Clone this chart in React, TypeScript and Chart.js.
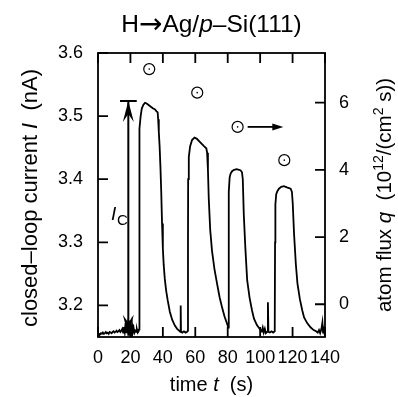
import React, { useEffect, useRef } from "react";
import { Chart, registerables } from "chart.js";

Chart.register(...registerables);

// ---- data ----
const timeS: number[] = [
  0, 0.6, 1.2, 1.8, 2.4, 3.0, 3.6, 4.2, 4.8, 5.4, 6.0, 6.6, 7.2, 7.8, 8.4, 9.0, 9.6, 10.2, 10.8, 11.4,
  12.0, 12.6, 13.2, 13.8, 14.4, 15.0, 15.5, 16.0, 16.5, 17.0, 17.5, 18.0, 18.5, 19.0, 19.5, 20.0, 20.5,
  21.0, 21.5, 22.0, 22.5, 23.0, 23.5, 24.0, 24.5, 25.0,
  25.3, 25.4, 25.5, 25.8, 26.3, 27, 28, 29, 30, 31, 32, 33, 34, 35, 36, 36.8, 37.1, 37.5, 38, 38.5, 39,
  39.5, 40, 40.5, 41.2, 42, 43, 44.3, 45.8, 47.4, 48.8, 50.0, 50.8, 51.0, 51.2, 52, 53, 54, 54.8, 55.4,
  55.5, 55.6, 56.0, 56.8, 58, 59.5, 61, 62.5, 64, 65.5, 66.8, 67.3, 67.8, 68.3, 69.2, 70.3, 71.8, 73.4,
  75.0, 76.5, 78, 79.6, 80.4,
  80.6, 80.7, 81.2, 81.8, 82.8, 84, 85.5, 87, 88, 88.8, 89.3, 89.9, 90.9, 92, 93.5, 95, 96.2, 98, 100,
  101, 101.6, 102.2, 102.9, 103.5, 104.3, 104.8, 105.1, 106, 107, 108, 109,
  109.2, 109.4, 109.9, 110.6, 111.6, 113, 114.7, 116.5, 118.8, 119.6, 120.1, 120.9, 122, 123, 124.5, 126,
  127.1, 129, 131.2, 133, 134.5, 135.5, 136.3, 137, 137.8, 138.4, 138.8, 139.3, 140,
];
const currentNA: number[] = [
  3.152, 3.155, 3.154, 3.156, 3.155, 3.157, 3.155, 3.156, 3.158, 3.156, 3.157, 3.155, 3.158, 3.157, 3.156,
  3.158, 3.159, 3.157, 3.158, 3.160, 3.158, 3.159, 3.161, 3.158, 3.160, 3.163, 3.157, 3.166, 3.158, 3.172,
  3.156, 3.168, 3.157, 3.176, 3.158, 3.163, 3.157, 3.170, 3.158, 3.164, 3.157, 3.160, 3.158, 3.162, 3.157,
  3.159,
  3.162, 3.30, 3.42, 3.48, 3.50, 3.512, 3.518, 3.521, 3.520, 3.518, 3.516, 3.514, 3.512, 3.511, 3.508,
  3.506, 3.495, 3.475, 3.452, 3.42, 3.38, 3.33, 3.29, 3.265, 3.242, 3.224, 3.208, 3.190, 3.177, 3.168,
  3.163, 3.160, 3.158, 3.20, 3.158, 3.157, 3.159, 3.157, 3.158, 3.16,
  3.30, 3.40, 3.435, 3.452, 3.462, 3.466, 3.464, 3.460, 3.456, 3.452, 3.449, 3.442, 3.415, 3.37, 3.32,
  3.287, 3.258, 3.235, 3.213, 3.197, 3.183, 3.171, 3.165,
  3.30, 3.38, 3.403, 3.409, 3.413, 3.415, 3.416, 3.415, 3.414, 3.411, 3.40, 3.345, 3.29, 3.24, 3.212,
  3.192, 3.179, 3.169, 3.162, 3.159, 3.165, 3.157, 3.163, 3.156, 3.158, 3.205, 3.158, 3.157, 3.159, 3.157,
  3.159,
  3.30, 3.36, 3.376, 3.381, 3.385, 3.388, 3.389, 3.387, 3.385, 3.380, 3.362, 3.314, 3.266, 3.235, 3.210,
  3.192, 3.181, 3.172, 3.165, 3.161, 3.159, 3.157, 3.161, 3.156, 3.163, 3.173, 3.157, 3.160, 3.152,
];
const fluxTime: number[] = [31.6, 61.2, 86.1, 114.9];
const fluxQ: number[] = [7.0, 6.3, 5.28, 4.29];

const xTicks: number[] = [0, 20, 40, 60, 80, 100, 120, 140];
const leftTicks: number[] = [3.2, 3.3, 3.4, 3.5, 3.6];
const rightTicks: number[] = [0, 2, 4, 6];

// annotation anchors in data units
const icArrowT = 18.7;
const icArrowFrom = 3.152;
const icArrowTo = 3.524;
const icBar: number[] = [13.6, 23.9];
const icLabelAt: number[] = [10.5, 3.345];
const fluxArrowT: number[] = [92.3, 114.3];
const fluxArrowQ = 5.28;

const FAMILY = "'Liberation Sans', Arial, Helvetica, sans-serif";

type Part = { t: string; size: number; italic?: boolean; dy?: number; family?: string };

function fontOf(p: Part) {
  return `${p.italic ? "italic " : ""}${p.size}px ${p.family || FAMILY}`;
}

function drawRich(ctx: CanvasRenderingContext2D, parts: Part[], cx: number, baseY: number) {
  let total = 0;
  const widths = parts.map((p) => {
    ctx.font = fontOf(p);
    const w = ctx.measureText(p.t).width;
    total += w;
    return w;
  });
  let x = cx - total / 2;
  ctx.textAlign = "left";
  ctx.textBaseline = "alphabetic";
  parts.forEach((p, i) => {
    ctx.font = fontOf(p);
    ctx.fillText(p.t, x, baseY + (p.dy || 0));
    x += widths[i];
  });
}

const decorPlugin = {
  id: "decor",
  afterDatasetsDraw(chart: any) {
    const ctx: CanvasRenderingContext2D = chart.ctx;
    const { left, right, top, bottom } = chart.chartArea;
    const sx = chart.scales.x;
    const sy = chart.scales.y;
    const sy2 = chart.scales.y2;
    ctx.save();
    ctx.strokeStyle = "#000";
    ctx.fillStyle = "#000";
    ctx.lineWidth = 1.8;
    ctx.strokeRect(left, top, right - left, bottom - top);
    const TL = 10;
    ctx.beginPath();
    xTicks.forEach((v) => {
      const px = sx.getPixelForValue(v);
      ctx.moveTo(px, bottom);
      ctx.lineTo(px, bottom - TL);
      ctx.moveTo(px, top);
      ctx.lineTo(px, top + TL);
    });
    leftTicks.forEach((v) => {
      const py = sy.getPixelForValue(v);
      ctx.moveTo(left, py);
      ctx.lineTo(left + TL, py);
    });
    rightTicks.forEach((v) => {
      const py = sy2.getPixelForValue(v);
      ctx.moveTo(right, py);
      ctx.lineTo(right - TL, py);
    });
    ctx.stroke();

    // I_C double arrow
    const ax = sx.getPixelForValue(icArrowT);
    const ayTop = sy.getPixelForValue(icArrowTo);
    const ayBot = sy.getPixelForValue(icArrowFrom);
    ctx.lineWidth = 2;
    ctx.beginPath();
    ctx.moveTo(ax, ayTop);
    ctx.lineTo(ax, ayBot);
    ctx.moveTo(sx.getPixelForValue(icBar[0]), ayTop);
    ctx.lineTo(sx.getPixelForValue(icBar[1]), ayTop);
    ctx.stroke();
    const head = (tipY: number, dir: number) => {
      ctx.beginPath();
      ctx.moveTo(ax, tipY);
      ctx.lineTo(ax - 5.5, tipY + dir * 21);
      ctx.lineTo(ax, tipY + dir * 13);
      ctx.lineTo(ax + 5.5, tipY + dir * 21);
      ctx.closePath();
      ctx.fill();
    };
    head(ayTop, 1);
    head(ayBot, -1);

    // flux arrow
    const fy = sy2.getPixelForValue(fluxArrowQ);
    const fx0 = sx.getPixelForValue(fluxArrowT[0]);
    const fx1 = sx.getPixelForValue(fluxArrowT[1]);
    ctx.lineWidth = 1.8;
    ctx.beginPath();
    ctx.moveTo(fx0, fy);
    ctx.lineTo(fx1 - 8, fy);
    ctx.stroke();
    ctx.beginPath();
    ctx.moveTo(fx1, fy);
    ctx.lineTo(fx1 - 11, fy - 3.5);
    ctx.lineTo(fx1 - 11, fy + 3.5);
    ctx.closePath();
    ctx.fill();

    // I_C label
    const lx = sx.getPixelForValue(icLabelAt[0]);
    const ly = sy.getPixelForValue(icLabelAt[1]);
    ctx.textAlign = "left";
    ctx.textBaseline = "alphabetic";
    ctx.font = `italic 19px ${FAMILY}`;
    ctx.fillText("I", lx - 4, ly + 6);
    ctx.font = `15px ${FAMILY}`;
    ctx.fillText("C", lx + 2, ly + 11);

    // title
    drawRich(
      ctx,
      [
        { t: "H", size: 24.5 },
        { t: "→", size: 28, family: "'DejaVu Sans', sans-serif", dy: 1 },
        { t: "Ag/", size: 24.5 },
        { t: "p", size: 24.5, italic: true },
        { t: "–Si(111)", size: 24.5 },
      ],
      (left + right) / 2,
      32
    );

    // x title
    drawRich(
      ctx,
      [
        { t: "time ", size: 20 },
        { t: "t", size: 20, italic: true },
        { t: "  (s)", size: 20 },
      ],
      (left + right) / 2,
      391
    );

    // left title
    ctx.save();
    ctx.translate(37, (top + bottom) / 2 + 3);
    ctx.rotate(-Math.PI / 2);
    drawRich(
      ctx,
      [
        { t: "closed–loop current ", size: 22 },
        { t: "I", size: 22, italic: true },
        { t: "  (nA)", size: 22 },
      ],
      0,
      0
    );
    ctx.restore();

    // right title
    ctx.save();
    ctx.translate(391, (top + bottom) / 2);
    ctx.rotate(-Math.PI / 2);
    drawRich(
      ctx,
      [
        { t: "atom flux ", size: 20.5 },
        { t: "q", size: 20.5, italic: true },
        { t: "  (10", size: 20.5 },
        { t: "12", size: 14, dy: -8 },
        { t: "/(cm", size: 20.5 },
        { t: "2", size: 14, dy: -8 },
        { t: " s))", size: 20.5 },
      ],
      0,
      0
    );
    ctx.restore();

    ctx.restore();
  },
};

export default function App() {
  const ref = useRef<HTMLCanvasElement | null>(null);
  useEffect(() => {
    if (!ref.current) return;
    Chart.defaults.font.family = FAMILY;
    const chart = new Chart(ref.current, {
      type: "scatter",
      data: {
        datasets: [
          {
            data: timeS.map((t, i) => ({ x: t, y: currentNA[i] })),
            showLine: true,
            borderColor: "#000",
            borderWidth: 1.8,
            pointRadius: 0,
            tension: 0,
            xAxisID: "x",
            yAxisID: "y",
          },
          {
            data: fluxTime.map((t, i) => ({ x: t, y: fluxQ[i] })),
            showLine: false,
            pointRadius: 5.5,
            pointBorderWidth: 1.2,
            pointBorderColor: "#000",
            pointBackgroundColor: "rgba(0,0,0,0)",
            xAxisID: "x",
            yAxisID: "y2",
          },
          {
            data: fluxTime.map((t, i) => ({ x: t, y: fluxQ[i] })),
            showLine: false,
            pointRadius: 0.8,
            pointBorderWidth: 0,
            pointBackgroundColor: "#000",
            xAxisID: "x",
            yAxisID: "y2",
          },
        ],
      },
      plugins: [decorPlugin],
      options: {
        responsive: false,
        animation: false,
        events: [],
        layout: { padding: { top: 53, left: 0, right: 0, bottom: 0 } },
        plugins: { legend: { display: false }, tooltip: { enabled: false }, title: { display: false } },
        scales: {
          x: {
            type: "linear",
            position: "bottom",
            min: 0,
            max: 140,
            afterBuildTicks: (s: any) => {
              s.ticks = xTicks.map((v) => ({ value: v }));
            },
            afterFit: (s: any) => {
              s.height = 60;
            },
            grid: { display: false, drawTicks: false },
            border: { display: false },
            ticks: {
              autoSkip: false,
              maxRotation: 0,
              padding: 10,
              color: "#000",
              font: { size: 18 },
              callback: (v: any) => String(v),
            },
          },
          y: {
            type: "linear",
            position: "left",
            min: 3.15,
            max: 3.6,
            afterBuildTicks: (s: any) => {
              s.ticks = leftTicks.map((v) => ({ value: v }));
            },
            afterFit: (s: any) => {
              s.width = 98;
            },
            grid: { display: false, drawTicks: false },
            border: { display: false },
            ticks: {
              padding: 15,
              color: "#000",
              font: { size: 18 },
              callback: (v: any) => Number(v).toFixed(1),
            },
          },
          y2: {
            type: "linear",
            position: "right",
            min: -0.975,
            max: 7.48,
            afterBuildTicks: (s: any) => {
              s.ticks = rightTicks.map((v) => ({ value: v }));
            },
            afterFit: (s: any) => {
              s.width = 73;
            },
            grid: { display: false, drawTicks: false },
            border: { display: false },
            ticks: {
              padding: 14,
              color: "#000",
              font: { size: 18 },
              callback: (v: any) => String(v),
            },
          },
        },
      },
    } as any);
    return () => chart.destroy();
  }, []);
  return (
    <div style={{ position: "absolute", left: 0, top: 0, width: 398, height: 397, background: "#fff" }}>
      <canvas ref={ref} width={398} height={397} style={{ display: "block" }} />
    </div>
  );
}
